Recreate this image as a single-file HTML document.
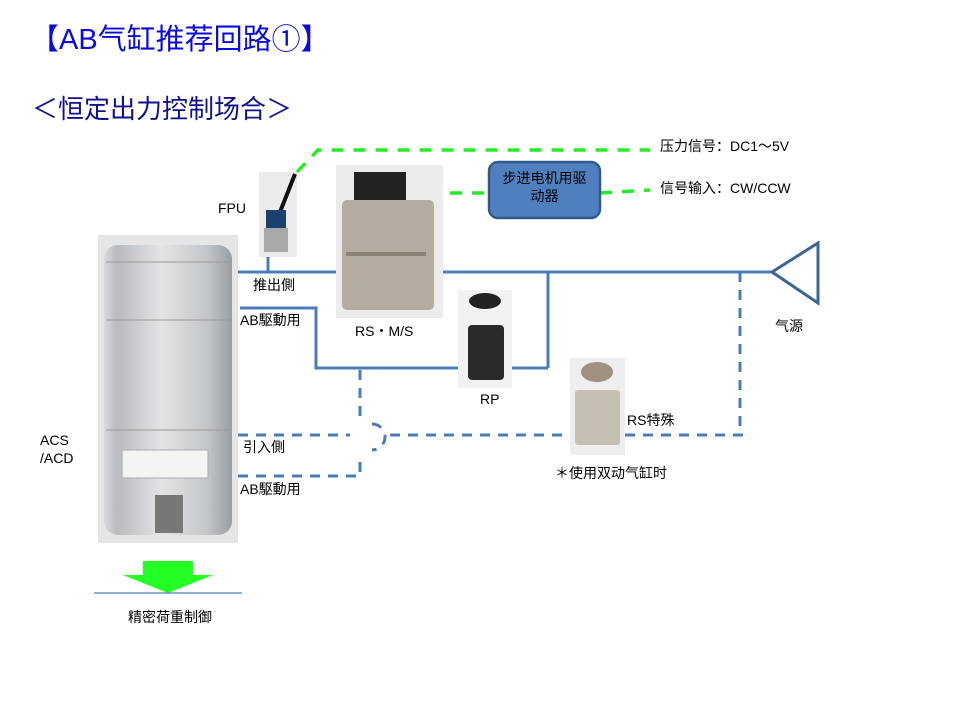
<!DOCTYPE html>
<html><head><meta charset="utf-8"><style>
body{margin:0;background:#fff;}
svg text{font-family:"Liberation Sans","Noto Sans CJK SC",sans-serif;fill:#000;}
</style></head><body>
<svg width="960" height="720" viewBox="0 0 960 720" xmlns="http://www.w3.org/2000/svg">
<defs>
<linearGradient id="cyl" x1="0" x2="1" y1="0" y2="0">
<stop offset="0" stop-color="#d8dadc"/><stop offset="0.1" stop-color="#b8bbbe"/><stop offset="0.45" stop-color="#e2e4e6"/><stop offset="0.8" stop-color="#c4c7ca"/><stop offset="1" stop-color="#9a9ea2"/></linearGradient>
</defs>
<text x="30" y="49" font-size="29" style="fill:#0a0ae0">【AB气缸推荐回路①】</text>
<text x="32" y="118" font-size="26" style="fill:#101090">＜恒定出力控制场合＞</text>

<!-- cylinder image -->
<rect x="98" y="235" width="140" height="308" fill="#e6e6e6"/>
<rect x="104" y="245" width="128" height="290" rx="14" fill="url(#cyl)"/>
<line x1="106" y1="262" x2="232" y2="262" stroke="#999"/>
<line x1="106" y1="320" x2="232" y2="320" stroke="#999"/>
<line x1="106" y1="430" x2="232" y2="430" stroke="#999"/>
<rect x="122" y="450" width="86" height="28" fill="#f4f4f2" stroke="#aaa"/>
<rect x="155" y="495" width="28" height="38" fill="#777"/>

<!-- FPU -->
<rect x="259" y="172" width="38" height="85" fill="#ececec"/>
<line x1="295" y1="174" x2="280" y2="212" stroke="#111" stroke-width="4"/>
<rect x="266" y="210" width="20" height="18" fill="#1a4070"/>
<rect x="264" y="228" width="24" height="24" fill="#a8a8a8"/>

<!-- RS M/S -->
<rect x="336" y="165" width="107" height="153" fill="#ececec"/>
<rect x="354" y="172" width="52" height="38" fill="#222"/>
<rect x="342" y="200" width="92" height="110" rx="5" fill="#b5aca0"/>
<rect x="346" y="252" width="80" height="4" fill="#8a8178"/>

<!-- RP -->
<rect x="458" y="290" width="54" height="98" fill="#f2f2f2"/>
<ellipse cx="485" cy="301" rx="16" ry="8" fill="#222"/>
<rect x="468" y="325" width="36" height="55" rx="4" fill="#2a2a2a"/>

<!-- RS special -->
<rect x="570" y="358" width="55" height="97" fill="#eeeeee"/>
<ellipse cx="597" cy="372" rx="16" ry="10" fill="#a09080"/>
<rect x="575" y="390" width="45" height="55" rx="3" fill="#c5bfb5"/>

<!-- green dashed signal lines -->
<g stroke="#22ee22" stroke-width="3.5" fill="none" stroke-dasharray="12,10">
<polyline points="297,172 318,150 650,150"/>
<line x1="450" y1="193" x2="489" y2="193"/>
<line x1="600" y1="193" x2="650" y2="190"/>
</g>
<!-- driver box -->
<rect x="489" y="162" width="111" height="56" rx="9" fill="#4f7fbf" stroke="#2f5b8c" stroke-width="2.5"/>
<text x="544.5" y="183" font-size="14" text-anchor="middle">步进电机用驱</text>
<text x="544.5" y="201" font-size="14" text-anchor="middle">动器</text>

<!-- solid blue lines -->
<g stroke="#4a7cba" stroke-width="3" fill="none">
<line x1="238" y1="272" x2="336" y2="272"/>
<line x1="268" y1="257" x2="268" y2="272"/>
<line x1="443" y1="272" x2="772" y2="272"/>
<line x1="548" y1="272" x2="548" y2="368"/>
<polyline points="240,308 316,308 316,368 458,368"/>
<line x1="512" y1="368" x2="548" y2="368"/>
</g>
<polygon points="772,272 818,243 818,303" fill="none" stroke="#3d6596" stroke-width="3"/>

<!-- dashed blue -->
<g stroke="#4a7cba" stroke-width="3" fill="none" stroke-dasharray="10,8">
<line x1="238" y1="435" x2="350" y2="435"/>
<line x1="390" y1="435" x2="570" y2="435"/>
<line x1="625" y1="435" x2="745" y2="435"/>
<line x1="740" y1="272" x2="740" y2="435"/>
<line x1="360" y1="370" x2="360" y2="420"/>
<polyline points="238,476 360,476 360,455"/>
<path d="M372,424 A12,12 0 0 1 372,450"/>
</g>

<!-- green arrow -->
<rect x="143" y="561" width="50" height="15" fill="#22ff22"/>
<polygon points="123,575 213,575 168,593" fill="#22ff22"/>
<line x1="94" y1="593" x2="242" y2="593" stroke="#4a7cba" stroke-width="1.2"/>

<!-- labels -->
<g font-size="14">
<text x="218" y="213">FPU</text>
<text x="253" y="290">推出側</text>
<text x="240" y="325">AB駆動用</text>
<text x="355" y="336">RS・M/S</text>
<text x="480" y="404">RP</text>
<text x="775" y="331">气源</text>
<text x="627" y="425">RS特殊</text>
<text x="555" y="478">＊使用双动气缸时</text>
<text x="40" y="445">ACS</text>
<text x="40" y="463">/ACD</text>
<text x="243" y="452">引入側</text>
<text x="240" y="494">AB駆動用</text>
<text x="128" y="622">精密荷重制御</text>
<text x="660" y="151">压力信号：DC1～5V</text>
<text x="660" y="193">信号输入：CW/CCW</text>
</g>
</svg>
</body></html>
